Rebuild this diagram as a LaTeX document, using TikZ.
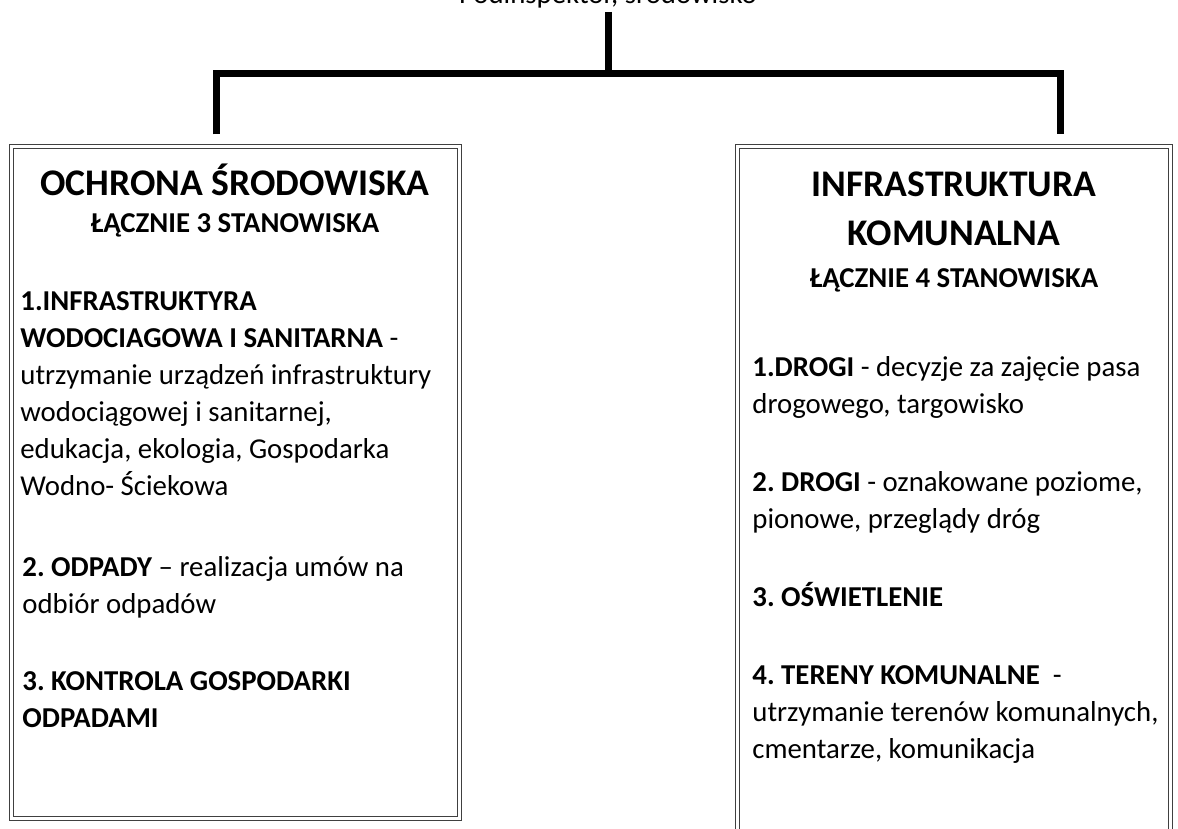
\documentclass[tikz,border=0pt]{standalone}
\usepackage{fontspec}
\setmainfont{Carlito}
\usetikzlibrary{positioning}
\usetikzlibrary{calc}
\definecolor{framegray}{rgb}{0.25,0.25,0.25}
\frenchspacing

\begin{document}
\begin{tikzpicture}[x=0.5pt, y=-0.5pt]
    \useasboundingbox (0,0) rectangle (1178,829);
    \tikzset{
        box/.style={draw=framegray, double, double distance=1.5pt, line width=0.5pt, inner sep=0pt},
        link/.style={line width=3.5pt, line join=miter},
        boxtitle/.style={font=\bfseries\fontsize{18.8}{24}\selectfont, anchor=base, inner sep=0pt},
        boxsub/.style={font=\bfseries\fontsize{14.4}{18.5}\selectfont, anchor=base, inner sep=0pt},
        % anchored at the baseline of the last line
        item/.style={font=\fontsize{14.4}{18.5}\selectfont, align=left, anchor=base west, inner sep=0pt},
    }

    % boxes
    \node[box, minimum width=224pt, minimum height=335.5pt] (ochrona) at (235,482.5) {};
    \node[box, minimum width=216.5pt, minimum height=351.5pt] (infra) at (953.5,498.5) {};

    % head, cut off at the top of the page
    \node[font=\fontsize{14.4}{18.5}\selectfont, anchor=base, inner sep=0pt] (head) at (608,4) {Podinspektor, środowisko};

    \coordinate (split) at (608,74);
    \coordinate (lft) at ([xshift=-9.5pt,yshift=6pt]ochrona.north);
    \coordinate (rgt) at ([xshift=53.5pt,yshift=6pt]infra.north);

    \draw[link] ([yshift=-4pt]head.base) -- (split);
    \draw[link] (lft) |- (split) -| (rgt);

    % left box
    \node[boxtitle] (ochT) at (235,195) {OCHRONA ŚRODOWISKA};
    \node[boxsub] (ochS) at (235,232) {ŁĄCZNIE 3 STANOWISKA};
    \node[item] (och1) at (20,495) {\textbf{1.INFRASTRUKTYRA}\\
        \textbf{WODOCIAGOWA I SANITARNA} -\\
        utrzymanie urządzeń infrastruktury\\
        wodociągowej i sanitarnej,\\
        edukacja, ekologia, Gospodarka\\
        Wodno- Ściekowa};
    \node[item] (och2) at (22,613) {\textbf{2. ODPADY} – realizacja umów na\\
        odbiór odpadów};
    \node[item] (och3) at (22,727) {\textbf{3. KONTROLA GOSPODARKI}\\
        \textbf{ODPADAMI}};

    % right box
    \node[boxtitle] (infT) at (954,197) {INFRASTRUKTURA};
    \node[boxtitle] (infT2) at (954,245) {KOMUNALNA};
    \node[boxsub] (infS) at (954,287) {ŁĄCZNIE 4 STANOWISKA};
    \node[item] (inf1) at (752,413) {\textbf{1.DROGI} - decyzje za zajęcie pasa\\
        drogowego, targowisko};
    \node[item] (inf2) at (752,528) {\textbf{2. DROGI} - oznakowane poziome,\\
        pionowe, przeglądy dróg};
    \node[item] (inf3) at (752,606) {\textbf{3. OŚWIETLENIE}};
    \node[item] (inf4) at (752,758) {\textbf{4. TERENY KOMUNALNE}\ \ -\\
        utrzymanie terenów komunalnych,\\
        cmentarze, komunikacja};
\end{tikzpicture}
\end{document}
